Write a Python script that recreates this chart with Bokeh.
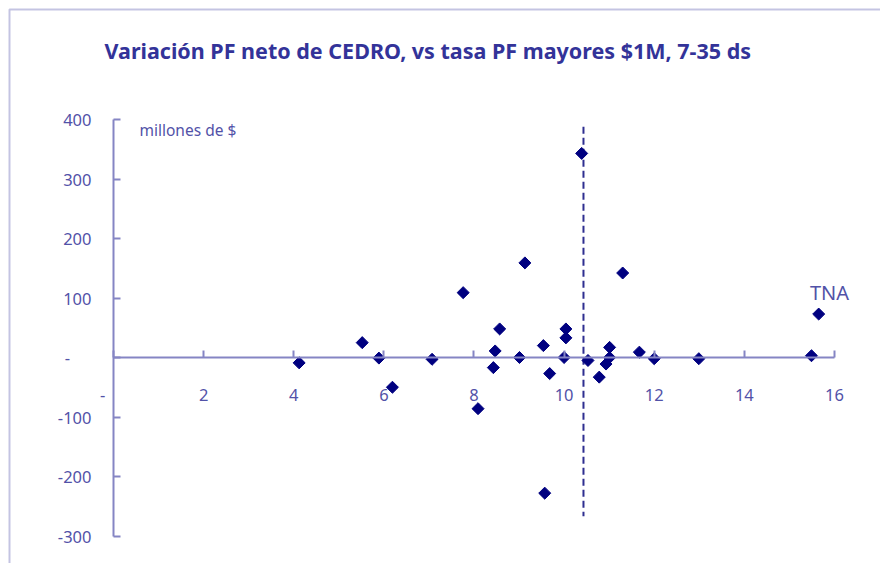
from bokeh.plotting import figure
from bokeh.models import FixedTicker, Label, BoxAnnotation
from bokeh.embed import file_html
from bokeh.resources import INLINE
import math

# --- data ---
tasa = [4.12, 5.52, 5.89, 6.19, 7.07, 7.76, 8.09, 8.43, 8.47, 8.57,
        9.01, 9.13, 9.54, 9.57, 9.68, 10.00, 10.04, 10.04, 10.39, 10.53,
        10.78, 10.93, 11.01, 11.01, 11.30, 11.67, 12.00, 12.99, 15.49, 15.65]
variacion = [-9, 25, -1, -50, -3, 109, -86, -17, 11, 48,
             0, 159, 20, -228, -27, 0, 33, 48, 343, -5,
             -33, -11, 0, 17, 142, 9, -2, -2, 3, 73]

ref_tasa = [10.43, 10.43]
ref_var = [388, -267]

x_ticks = [0, 2, 4, 6, 8, 10, 12, 14, 16]
x_tick_labels = ["-\u00a0\u00a0\u00a0\u00a0\u00a0", "2", "4", "6", "8", "10", "12", "14", "16"]
y_ticks = [-300, -200, -100, 0, 100, 200, 300, 400]
y_tick_labels = ["-300", "-200", "-100", "-\u00a0\u00a0\u00a0\u00a0\u00a0", "100", "200", "300", "400"]
x_axis_extent = (0, 16)
y_axis_extent = (-300, 400)

title_text = "Variación PF neto de CEDRO, vs tasa PF mayores $1M, 7-35 ds"
unit_text = "millones de $"
series_text = "TNA"

AXIS = "#8585C4"
LABEL = "#5252A8"
TITLE = "#333399"
POINT = "#000080"
FRAME = "#3C3CA0"

# --- geometry: the frame covers the whole canvas ---
W, H = 880, 563
ORIGIN_PX, ORIGIN_PY = 113, 357   # canvas pixel of (0, 0)
SX, SY = 45.06, 0.595             # pixels per data unit

x0 = -ORIGIN_PX / SX
x1 = (W - ORIGIN_PX) / SX
y1 = ORIGIN_PY / SY
y0 = (ORIGIN_PY - H) / SY


def dx(px):
    return (px - ORIGIN_PX) / SX


def dy(py):
    return (ORIGIN_PY - py) / SY


p = figure(width=W, height=H, output_backend="svg", toolbar_location=None,
           x_range=(x0, x1), y_range=(y0, y1), min_border=0)
p.outline_line_color = None
p.grid.visible = False
p.background_fill_color = "white"
p.border_fill_color = "white"

# chart-area border (top and left edges visible)
p.add_layout(BoxAnnotation(left=dx(9), top=dy(9), right=dx(3000), bottom=dy(3000),
                           fill_color=None, line_color=FRAME, line_width=2, level="underlay"))

# y axis at x = 0
ya = p.yaxis[0]
ya.fixed_location = 0
ya.bounds = y_axis_extent
ya.ticker = FixedTicker(ticks=y_ticks)
ya.major_label_overrides = {t: l for t, l in zip(y_ticks, y_tick_labels)}
ya.axis_line_color = AXIS
ya.axis_line_width = 2
ya.major_tick_line_color = AXIS
ya.major_tick_line_width = 2
ya.major_tick_in = 7
ya.major_tick_out = 0
ya.minor_tick_line_color = None
ya.major_label_standoff = 22
ya.major_label_text_color = LABEL
ya.major_label_text_font = "Noto Sans"
ya.major_label_text_font_size = "16.5px"

# x axis crossing at y = 0
xa = p.xaxis[0]
xa.fixed_location = 0
xa.bounds = x_axis_extent
xa.ticker = FixedTicker(ticks=x_ticks)
xa.major_label_overrides = {t: l for t, l in zip(x_ticks, x_tick_labels)}
xa.axis_line_color = AXIS
xa.axis_line_width = 2
xa.major_tick_line_color = AXIS
xa.major_tick_line_width = 2
xa.major_tick_in = 7
xa.major_tick_out = 0
xa.minor_tick_line_color = None
xa.major_label_standoff = 25
xa.major_label_text_color = LABEL
xa.major_label_text_font = "Noto Sans"
xa.major_label_text_font_size = "16.5px"

# dashed reference line
p.line(ref_tasa, ref_var, line_color="#2E2E90", line_width=2, line_dash="7 4")

# points
p.scatter(tasa, variacion, marker="square", size=8.5, angle=math.pi / 4,
          fill_color=POINT, line_color=POINT)

# texts
p.add_layout(Label(x=dx(104), y=dy(50), text=title_text, text_baseline="alphabetic", text_align="left",
                   text_color=TITLE, text_font="Noto Sans", text_font_style="bold",
                   text_font_size="21.5px"))
p.add_layout(Label(x=dx(139), y=dy(129), text=unit_text, text_baseline="alphabetic", text_align="left",
                   text_color=LABEL, text_font="Noto Sans", text_font_size="15.5px"))
p.add_layout(Label(x=dx(829), y=dy(292), text=series_text, text_baseline="alphabetic", text_align="center",
                   text_color=LABEL, text_font="Noto Sans", text_font_size="20px"))

open("out.html", "w").write(file_html(p, INLINE))
